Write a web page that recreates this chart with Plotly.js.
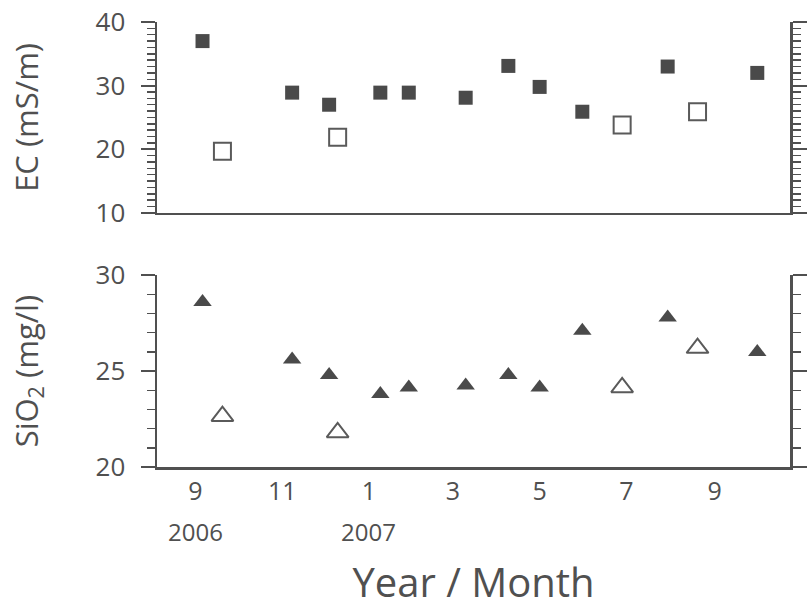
<!DOCTYPE html>
<html>
<head>
<meta charset="utf-8">
<script src="https://cdn.plot.ly/plotly-3.0.1.min.js"></script>
<style>
  html, body { margin: 0; padding: 0; background: #fff; }
  #chart { width: 810px; height: 609px; }
</style>
</head>
<body>
<div id="chart"></div>
<script>
// Sampling dates (filled = site A, open = site B)
const filledDates = ['2006-09-06', '2006-11-08', '2006-12-04', '2007-01-09', '2007-01-29',
                     '2007-03-10', '2007-04-09', '2007-05-01', '2007-05-31', '2007-07-30', '2007-10-01'];
const openDates = ['2006-09-20', '2006-12-10', '2007-06-28', '2007-08-20'];

// EC (mS/m)
const ecFilled = [37.0, 28.9, 27.0, 28.9, 28.9, 28.1, 33.1, 29.8, 25.9, 33.0, 32.0];
const ecOpen = [19.7, 21.9, 23.8, 25.9];

// SiO2 (mg/l)
const siFilled = [28.6, 25.6, 24.8, 23.8, 24.15, 24.25, 24.8, 24.15, 27.1, 27.8, 26.0];
const siOpen = [22.65, 21.8, 24.15, 26.2];

// Tick labels
const monthTickVals = ['2006-09-01', '2006-11-01', '2007-01-01', '2007-03-01', '2007-05-01', '2007-07-01', '2007-09-01'];
const monthTickText = ['9', '11', '1', '3', '5', '7', '9'];
const yearTickVals = ['2006-09-01', '2007-01-01'];
const yearTickText = ['2006', '2007'];

const xRange = ['2006-08-05', '2007-10-24'];
const ink = '#505050';
const font = 'Open Sans, sans-serif';

const traces = [
  { x: filledDates, y: ecFilled, type: 'scatter', mode: 'markers', xaxis: 'x', yaxis: 'y',
    marker: { symbol: 'square', size: 14, color: '#4a4a4a', line: { width: 0 } } },
  { x: openDates, y: ecOpen, type: 'scatter', mode: 'markers', xaxis: 'x', yaxis: 'y',
    marker: { symbol: 'square-open', size: 17, color: '#5a5a5a', line: { width: 2, color: '#5a5a5a' } } },
  { x: filledDates, y: siFilled, type: 'scatter', mode: 'markers', xaxis: 'x2', yaxis: 'y2',
    marker: { symbol: 'triangle-up', size: 16, color: '#4a4a4a', line: { width: 0 } } },
  { x: openDates, y: siOpen, type: 'scatter', mode: 'markers', xaxis: 'x2', yaxis: 'y2',
    marker: { symbol: 'triangle-up-open', size: 19, color: '#5a5a5a', line: { width: 2, color: '#5a5a5a' } } }
];

const yCommon = {
  showline: true, linecolor: ink, linewidth: 2.5,
  ticks: 'outside', ticklen: 14, tickwidth: 2, tickcolor: ink,
  mirror: 'allticks', showgrid: false, zeroline: false,
  tickfont: { family: font, size: 26, color: ink },
  ticklabelstandoff: 10,
  minor: { dtick: 1, ticks: 'outside', ticklen: 8, tickwidth: 1.5, tickcolor: ink, showgrid: false }
};

const layout = {
  width: 810, height: 609,
  margin: { l: 157, r: 20, t: 22, b: 142 },
  paper_bgcolor: '#fff', plot_bgcolor: '#fff',
  showlegend: false,
  font: { family: font, color: ink },
  xaxis: {
    type: 'date', range: xRange, anchor: 'y', domain: [0, 1],
    showline: true, linecolor: ink, linewidth: 2.5,
    showticklabels: false, ticks: '', showgrid: false, zeroline: false
  },
  xaxis2: {
    type: 'date', range: xRange, anchor: 'y2', domain: [0, 1],
    showline: true, linecolor: ink, linewidth: 2.5,
    tickmode: 'array', tickvals: monthTickVals, ticktext: monthTickText,
    ticks: '', showgrid: false, zeroline: false,
    tickfont: { family: font, size: 25, color: ink },
    ticklabelstandoff: 0,
    title: { text: 'Year / Month', font: { family: font, size: 40, color: ink }, standoff: 68 }
  },
  yaxis: Object.assign({}, yCommon, {
    domain: [0.571, 1], anchor: 'x', range: [10, 40], dtick: 10, tick0: 10,
    title: { text: 'EC (mS/m)', font: { family: font, size: 31, color: ink }, standoff: 48 }
  }),
  yaxis2: Object.assign({}, yCommon, {
    domain: [0, 0.431], anchor: 'x2', range: [20, 30], dtick: 5, tick0: 20,
    title: { text: 'SiO<sub>2</sub> (mg/l)', font: { family: font, size: 31, color: ink }, standoff: 48 }
  }),
  annotations: yearTickVals.map((v, i) => ({
    x: v, xref: 'x2', y: -0.146, yref: 'paper', yanchor: 'middle', xanchor: 'center',
    text: yearTickText[i], showarrow: false,
    font: { family: font, size: 24, color: ink }
  }))
};

Plotly.newPlot('chart', traces, layout, { staticPlot: true, displayModeBar: false });
</script>
</body>
</html>
